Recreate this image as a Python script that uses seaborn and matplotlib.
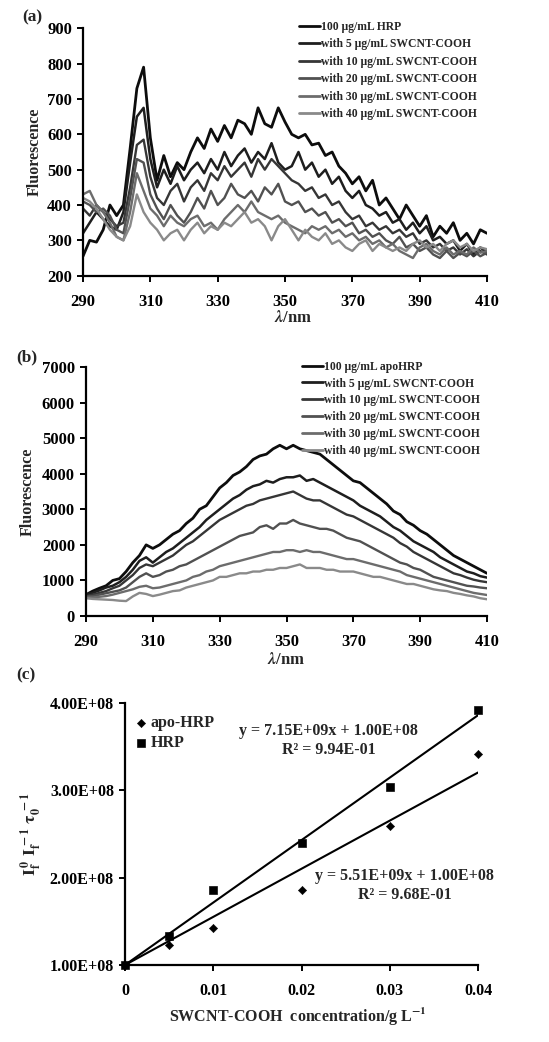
import numpy as np
import pandas as pd
import matplotlib
matplotlib.use("Agg")
import matplotlib.pyplot as plt
import seaborn as sns

# ---------------- data ----------------
wavelength = list(range(290, 411, 2))

labels_a = ["100 µg/mL HRP", "with 5 µg/mL SWCNT-COOH", "with 10 µg/mL SWCNT-COOH",
            "with 20 µg/mL SWCNT-COOH", "with 30 µg/mL SWCNT-COOH", "with 40 µg/mL SWCNT-COOH"]
labels_b = ["100 µg/mL apoHRP", "with 5 µg/mL SWCNT-COOH", "with 10 µg/mL SWCNT-COOH",
            "with 20 µg/mL SWCNT-COOH", "with 30 µg/mL SWCNT-COOH", "with 40 µg/mL SWCNT-COOH"]

hrp_0 = [255, 300, 295, 330, 400, 370, 400, 560, 730, 790, 590, 470, 540, 480, 520, 500,
         550, 590, 560, 615, 580, 625, 590, 640, 630, 600, 675, 630, 620, 675, 635, 600,
         590, 600, 570, 575, 540, 550, 510, 490, 460, 480, 440, 470, 400, 420, 390, 360,
         400, 370, 340, 370, 310, 340, 320, 350, 300, 320, 290, 330, 320]
hrp_5 = [320, 350, 380, 360, 340, 330, 380, 520, 650, 675, 530, 450, 500, 460, 510, 470,
         500, 520, 490, 530, 500, 550, 510, 540, 560, 520, 550, 530, 575, 520, 500, 510,
         550, 500, 520, 480, 500, 460, 480, 440, 420, 440, 400, 390, 370, 380, 350, 360,
         330, 350, 320, 340, 300, 310, 290, 300, 270, 290, 260, 280, 265]
hrp_10 = [390, 370, 400, 380, 360, 340, 350, 450, 570, 585, 480, 420, 400, 440, 460, 410,
          450, 470, 440, 490, 470, 510, 480, 500, 520, 480, 530, 500, 530, 510, 490, 470,
          460, 440, 450, 420, 430, 400, 410, 380, 360, 370, 340, 350, 330, 340, 320, 330,
          310, 320, 290, 300, 280, 290, 270, 280, 260, 275, 255, 270, 260]
hrp_20 = [410, 400, 380, 390, 370, 330, 320, 420, 530, 520, 430, 390, 360, 400, 370, 350,
          380, 420, 390, 440, 400, 420, 460, 430, 420, 440, 410, 450, 430, 460, 410, 400,
          410, 380, 390, 370, 380, 350, 360, 340, 350, 320, 330, 310, 320, 300, 290, 310,
          280, 290, 270, 280, 260, 250, 270, 250, 265, 255, 270, 255, 265]
hrp_30 = [430, 440, 400, 380, 350, 310, 300, 380, 490, 440, 390, 370, 340, 370, 350, 340,
          360, 370, 340, 350, 330, 360, 380, 400, 380, 410, 380, 370, 360, 370, 350, 340,
          330, 320, 340, 330, 340, 320, 330, 310, 320, 300, 310, 290, 300, 280, 290, 270,
          260, 250, 280, 290, 270, 260, 280, 260, 270, 260, 280, 265, 270]
hrp_40 = [420, 410, 390, 360, 330, 310, 300, 340, 430, 380, 350, 330, 300, 320, 330, 300,
          330, 350, 320, 340, 330, 350, 340, 360, 380, 350, 360, 340, 300, 340, 360, 330,
          300, 330, 310, 300, 320, 290, 300, 280, 270, 290, 300, 270, 290, 280, 270, 280,
          270, 290, 300, 280, 290, 270, 290, 300, 280, 290, 270, 280, 275]

apo_0 = [600, 700, 780, 850, 1000, 1050, 1250, 1500, 1700, 2000, 1900, 2000, 2150, 2300,
         2400, 2600, 2750, 3000, 3100, 3350, 3600, 3750, 3950, 4050, 4200, 4400, 4500, 4550,
         4700, 4800, 4700, 4800, 4700, 4650, 4600, 4550, 4400, 4250, 4100, 3950, 3800, 3750,
         3600, 3450, 3300, 3150, 2950, 2850, 2650, 2550, 2400, 2300, 2150, 2000, 1850, 1700,
         1600, 1500, 1400, 1300, 1200]
apo_5 = [600, 650, 720, 800, 850, 950, 1100, 1300, 1550, 1650, 1500, 1650, 1800, 1900,
         2050, 2200, 2350, 2500, 2700, 2850, 3000, 3150, 3300, 3400, 3550, 3650, 3700, 3800,
         3750, 3850, 3900, 3900, 3950, 3800, 3850, 3750, 3650, 3550, 3450, 3350, 3250, 3100,
         3000, 2900, 2800, 2650, 2500, 2400, 2250, 2100, 2000, 1900, 1800, 1650, 1550, 1450,
         1350, 1250, 1200, 1120, 1080]
apo_10 = [560, 600, 650, 700, 780, 850, 1000, 1150, 1350, 1450, 1400, 1500, 1600, 1700,
          1850, 2000, 2100, 2250, 2400, 2550, 2700, 2800, 2900, 3000, 3100, 3150, 3250, 3300,
          3350, 3400, 3450, 3500, 3400, 3300, 3250, 3250, 3150, 3050, 2950, 2850, 2800, 2700,
          2600, 2500, 2400, 2300, 2200, 2050, 1950, 1800, 1700, 1600, 1500, 1400, 1300, 1200,
          1150, 1080, 1020, 980, 950]
apo_20 = [550, 560, 600, 640, 680, 720, 800, 950, 1100, 1200, 1100, 1150, 1250, 1300,
          1400, 1450, 1550, 1650, 1750, 1850, 1950, 2050, 2150, 2250, 2300, 2350, 2500, 2550,
          2450, 2600, 2600, 2700, 2600, 2550, 2500, 2450, 2450, 2400, 2300, 2200, 2150, 2100,
          2000, 1900, 1800, 1700, 1600, 1500, 1450, 1350, 1300, 1200, 1100, 1050, 1000, 950,
          900, 850, 830, 800, 780]
apo_30 = [520, 520, 540, 560, 600, 650, 700, 750, 820, 850, 780, 800, 850, 900, 950, 1000,
          1100, 1150, 1250, 1300, 1400, 1450, 1500, 1550, 1600, 1650, 1700, 1750, 1800, 1800,
          1850, 1850, 1800, 1850, 1800, 1800, 1750, 1700, 1650, 1600, 1600, 1550, 1500, 1450,
          1400, 1350, 1300, 1250, 1150, 1100, 1050, 1000, 950, 900, 850, 800, 750, 700, 650,
          620, 590]
apo_40 = [500, 480, 470, 460, 450, 430, 420, 550, 650, 620, 560, 600, 650, 700, 720, 800,
          850, 900, 950, 1000, 1100, 1100, 1150, 1200, 1200, 1250, 1250, 1300, 1300, 1350,
          1350, 1400, 1450, 1350, 1350, 1350, 1300, 1300, 1250, 1250, 1250, 1200, 1150, 1100,
          1100, 1050, 1000, 950, 900, 900, 850, 800, 750, 720, 700, 650, 620, 580, 550, 500,
          470]

conc = [0, 0.005, 0.01, 0.02, 0.03, 0.04]
sv_apo = [1.00e8, 1.23e8, 1.42e8, 1.86e8, 2.59e8, 3.42e8]
sv_hrp = [1.00e8, 1.33e8, 1.86e8, 2.40e8, 3.04e8, 3.92e8]
fit_hrp = (7.15e9, 1.00e8)
fit_apo = (5.51e9, 1.00e8)

a_yticks = [200, 300, 400, 500, 600, 700, 800, 900]
b_yticks = [0, 1000, 2000, 3000, 4000, 5000, 6000, 7000]
wl_ticks = [290, 310, 330, 350, 370, 390, 410]
c_xticks = [0, 0.01, 0.02, 0.03, 0.04]
c_xticklabels = ["0", "0.01", "0.02", "0.03", "0.04"]
c_yticks = [1e8, 2e8, 3e8, 4e8]
c_yticklabels = ["1.00E+08", "2.00E+08", "3.00E+08", "4.00E+08"]

# ---------------- style ----------------
sns.set_theme(style="ticks")
plt.rcParams["font.family"] = ["Liberation Serif", "DejaVu Serif"]
plt.rcParams["font.weight"] = "bold"
plt.rcParams["axes.labelweight"] = "bold"
plt.rcParams["mathtext.fontset"] = "stix"
plt.rcParams["axes.linewidth"] = 1.6
plt.rcParams["xtick.major.width"] = 1.4
plt.rcParams["ytick.major.width"] = 1.4
plt.rcParams["xtick.major.size"] = 4
plt.rcParams["ytick.major.size"] = 4
plt.rcParams["xtick.color"] = "black"
plt.rcParams["ytick.color"] = "black"
plt.rcParams["axes.edgecolor"] = "black"

colors = ["#0d0d0d", "#1e1e1e", "#363636", "#515151", "#6c6c6c", "#8a8a8a"]
widths = [2.0, 1.8, 1.7, 1.7, 1.7, 1.7]

fig = plt.figure(figsize=(5.49, 10.42), dpi=100)
W, H = 549, 1042

def px_axes(l, r, t, b):
    return fig.add_axes([l / W, 1 - b / H, (r - l) / W, (b - t) / H])

def style_axes(ax, fs=12, xpad=9, ypad=4):
    sns.despine(ax=ax)
    ax.tick_params(axis="both", labelsize=fs, direction="out")
    ax.tick_params(axis="x", pad=xpad)
    ax.tick_params(axis="y", pad=ypad)
    for lab in ax.get_xticklabels() + ax.get_yticklabels():
        lab.set_fontweight("bold")

# ---------------- panel (a) ----------------
ax_a = px_axes(83, 487, 28.3, 275.7)
series_a = [hrp_0, hrp_5, hrp_10, hrp_20, hrp_30, hrp_40]
for vals, c, lw, lab in zip(series_a, colors, widths, labels_a):
    sns.lineplot(x=wavelength, y=vals, ax=ax_a, color=c, linewidth=lw, label=lab)
ax_a.set_xlim(290, 410)
ax_a.set_ylim(200, 900)
ax_a.set_xticks(wl_ticks)
ax_a.set_yticks(a_yticks)
ax_a.set_xlabel(r"$\lambda$/nm", fontsize=12, fontweight="bold")
ax_a.set_ylabel("Fluorescence", fontsize=11.5, fontweight="bold")
ax_a.xaxis.set_label_coords(0.52, -0.14)
ax_a.yaxis.set_label_coords(-0.10, 0.5)
style_axes(ax_a)
leg = ax_a.legend(loc="upper left", bbox_to_anchor=(0.535, 1.03), frameon=False,
                  prop={"family": "Liberation Serif", "weight": "bold", "size": 8.4},
                  handlelength=1.8, handletextpad=0.1, labelspacing=0.47,
                  borderpad=0, borderaxespad=0)
for line in leg.get_lines():
    line.set_linewidth(2.0)
fig.text(22 / W, 1 - 17 / H, "(a)", fontsize=12.5, fontweight="bold", va="center", ha="left")

# ---------------- panel (b) ----------------
ax_b = px_axes(86, 487, 367, 616)
series_b = [apo_0, apo_5, apo_10, apo_20, apo_30, apo_40]
for vals, c, lw, lab in zip(series_b, colors, widths, labels_b):
    sns.lineplot(x=wavelength, y=vals, ax=ax_b, color=c, linewidth=lw, label=lab)
ax_b.set_xlim(290, 410)
ax_b.set_ylim(0, 7000)
ax_b.set_xticks(wl_ticks)
ax_b.set_yticks(b_yticks)
ax_b.set_xlabel(r"$\lambda$/nm", fontsize=12, fontweight="bold")
ax_b.set_ylabel("Fluorescence", fontsize=11.5, fontweight="bold")
ax_b.xaxis.set_label_coords(0.50, -0.145)
ax_b.yaxis.set_label_coords(-0.125, 0.5)
style_axes(ax_b)
leg = ax_b.legend(loc="upper left", bbox_to_anchor=(0.538, 1.025), frameon=False,
                  prop={"family": "Liberation Serif", "weight": "bold", "size": 8.4},
                  handlelength=1.8, handletextpad=0.1, labelspacing=0.41,
                  borderpad=0, borderaxespad=0)
for line in leg.get_lines():
    line.set_linewidth(2.0)
fig.text(16 / W, 1 - 357 / H, "(b)", fontsize=12.5, fontweight="bold", va="center", ha="left")

# ---------------- panel (c) ----------------
ax_c = px_axes(125, 478, 703, 965)
sns.scatterplot(x=conc, y=sv_apo, marker="D", s=18, color="black", edgecolor="black",
                ax=ax_c, clip_on=False, zorder=3, label="apo-HRP")
sns.scatterplot(x=conc, y=sv_hrp, marker="s", s=32, color="black", edgecolor="black",
                ax=ax_c, clip_on=False, zorder=3, label="HRP")
xfit = [conc[0], conc[-1]]
sns.lineplot(x=xfit, y=[fit_hrp[0] * x + fit_hrp[1] for x in xfit], ax=ax_c, color="black",
             linewidth=1.5, legend=False)
sns.lineplot(x=xfit, y=[fit_apo[0] * x + fit_apo[1] for x in xfit], ax=ax_c, color="black",
             linewidth=1.5, legend=False)
ax_c.set_xlim(0, 0.04)
ax_c.set_ylim(1e8, 4e8)
ax_c.set_xticks(c_xticks)
ax_c.set_xticklabels(c_xticklabels)
ax_c.set_yticks(c_yticks)
ax_c.set_yticklabels(c_yticklabels)
ax_c.set_xlabel(r"SWCNT-COOH  concentration/g L$^{\mathbf{-1}}$", fontsize=11.5, fontweight="bold")
ax_c.set_ylabel(r"$\mathbf{I_f^{\,0}\ I_f^{\,-1}\ \tau_0^{\,-1}}$", fontsize=12.5)
ax_c.xaxis.set_label_coords(0.49, -0.155)
ax_c.yaxis.set_label_coords(-0.23, 0.5)
style_axes(ax_c, fs=11.5, xpad=9, ypad=4)
leg = ax_c.legend(loc="upper left", bbox_to_anchor=(0.035, 0.955), frameon=False,
                  prop={"family": "Liberation Serif", "weight": "bold", "size": 11.5},
                  handlelength=0.5, handletextpad=0.35, labelspacing=0.25,
                  borderpad=0, borderaxespad=0)
ax_c.text(0.0231, 3.68e8, "y = 7.15E+09x + 1.00E+08", fontsize=11.5, fontweight="bold", ha="center", va="center")
ax_c.text(0.0231, 3.46e8, "R² = 9.94E-01", fontsize=11.5, fontweight="bold", ha="center", va="center")
ax_c.text(0.0317, 2.02e8, "y = 5.51E+09x + 1.00E+08", fontsize=11.5, fontweight="bold", ha="center", va="center")
ax_c.text(0.0317, 1.80e8, "R² = 9.68E-01", fontsize=11.5, fontweight="bold", ha="center", va="center")
fig.text(16 / W, 1 - 675 / H, "(c)", fontsize=12.5, fontweight="bold", va="center", ha="left")

fig.savefig("out.png", dpi=100, facecolor="white")
